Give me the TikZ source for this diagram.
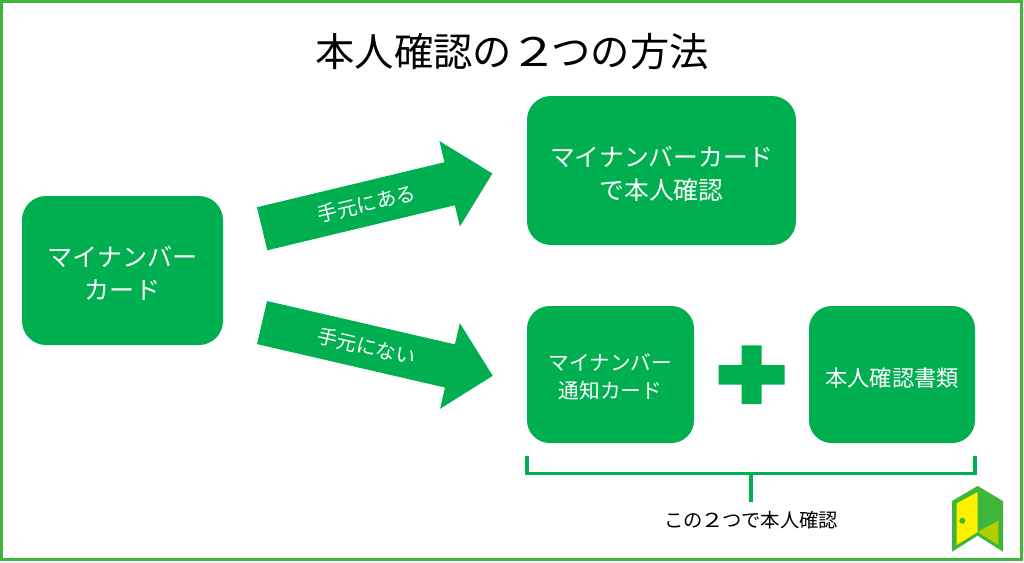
\documentclass[tikz,border=0pt]{standalone}
\usepackage{fontspec}
\setmainfont{Noto Sans CJK JP}
\usepackage{xcolor}
\usetikzlibrary{shapes.arrows}
\definecolor{mygreen}{HTML}{00B050}
\definecolor{framegreen}{HTML}{3FB63A}
\definecolor{dooryellow}{HTML}{FFF000}
\definecolor{doorlight}{HTML}{AFCF00}
\tikzstyle{greenbox} = [fill=mygreen, text=white, rectangle, rounded corners=18pt, align=center, inner sep=0pt, outer sep=0pt]
\tikzstyle{bigarrow} = [fill=mygreen, text=white, single arrow, single arrow head extend=16.35pt, minimum height=177.6pt, inner xsep=0pt, inner ysep=0pt, outer sep=0pt, text height=22.1pt, text depth=10.7pt, font=\fontsize{15}{15}\selectfont]
\tikzstyle{bracketline} = [draw=mygreen, line width=2.3pt]

\begin{document}
\begin{tikzpicture}[x=0.75pt,y=-0.75pt]
\useasboundingbox (0,0) rectangle (1024,562);
\draw[framegreen, line width=2pt] (1.3,1.3) rectangle (1021.7,559.5);
\node (title) at (512,52) {\fontsize{29.5}{29.5}\selectfont 本人確認の\makebox[1em]{\hspace{4pt}\scalebox{1.25}[1]{２}}つの方法};
% boxes
\node [greenbox, minimum width=150.75pt, minimum height=111.75pt, font=\fontsize{18.8}{25}\selectfont] (mycard) at (122.5,270.5) {\rule{0pt}{20pt}マイナンバー\\カード};
\node [greenbox, minimum width=201.75pt, minimum height=111.75pt, font=\fontsize{18.6}{25}\selectfont] (cardcheck) at (661.5,170.5) {\rule{0pt}{20pt}マイナンバーカード\\で本人確認};
\node [greenbox, rounded corners=17pt, minimum width=125.25pt, minimum height=102.75pt, font=\fontsize{15.5}{20.5}\selectfont] (notifycard) at (610.5,374.5) {\rule{0pt}{16pt}マイナンバー\\通知カード};
\node [greenbox, rounded corners=17pt, minimum width=124.5pt, minimum height=102.75pt, font=\fontsize{16.7}{21}\selectfont] (papers) at (892,374.5) {\rule{0pt}{20pt}本人確認書類};
% arrows
\node [bigarrow, rotate=13.5] (hasarrow) at (366.5,203.7) {手元にある};
\node [bigarrow, rotate=-13] (nonearrow) at (366.6,346.7) {手元にない};
% plus
\fill[mygreen] (741.7,345.3) -- (761.7,345.3) -- (761.7,365) -- (784.7,365) -- (784.7,384.7) -- (761.7,384.7) -- (761.7,404) -- (741.7,404) -- (741.7,384.7) -- (718.7,384.7) -- (718.7,365) -- (741.7,365) -- cycle;
% bracket
\coordinate (bracketleft) at (notifycard.south west |- 0,456);
\coordinate (bracketright) at (papers.south east |- 0,456);
\coordinate (bracketmid) at (751,473.5);
\node [font=\fontsize{14.5}{14.5}\selectfont] (bothlabel) at (751,520) {この\makebox[1em]{\scalebox{1.25}[1]{２}}つで本人確認};
\draw[bracketline] (bracketleft) -- (bracketleft |- bracketmid) -- (bracketright |- bracketmid) -- (bracketright);
\draw[bracketline] (bracketmid) -- (751,502);
% door
\fill[framegreen] (952,501) -- (977.7,486) -- (1003,501) -- (1003,551.7) -- (977.7,535.7) -- (952,551.7) -- cycle;
\fill[dooryellow] (956.7,503.3) -- (977.7,492) -- (977.7,532) -- (956.7,545) -- cycle;
\fill[doorlight] (977.7,532) -- (998.3,520.7) -- (998.3,545) -- cycle;
\fill[framegreen] (962.3,520.7) circle (3);
\end{tikzpicture}
\end{document}
